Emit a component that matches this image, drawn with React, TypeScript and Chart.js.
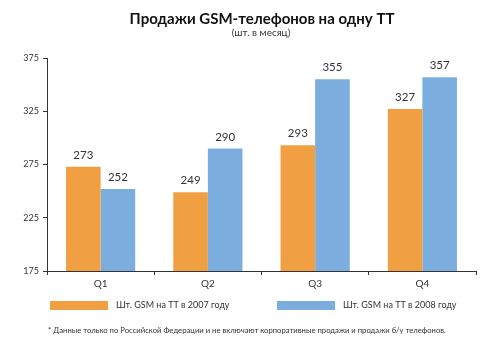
import React, { useEffect, useRef } from "react";
import { Chart, registerables } from "chart.js";

Chart.register(...registerables);

const categories = ["Q1", "Q2", "Q3", "Q4"];
const series2007 = [273, 249, 293, 327];
const series2008 = [252, 290, 355, 357];
const seriesNames = ["Шт. GSM на ТТ в 2007 году", "Шт. GSM на ТТ в 2008 году"];
const titleText = "Продажи GSM-телефонов на одну ТТ";
const subtitleText = "(шт. в месяц)";
const footnoteText =
  "* Данные только по Российской Федерации и не включают корпоративные продажи и продажи б/у телефонов.";
const yMin = 175;
const yMax = 375;
const yStep = 50;

const FONT = "Lato, 'Open Sans', sans-serif";
const TEXT = "#333333";
const ORANGE = "#F0A042";
const BLUE = "#7BAEDF";

const decorPlugin = {
  id: "decor",
  afterDraw(chart: any) {
    const ctx = chart.ctx;
    ctx.save();
    ctx.fillStyle = "#111";
    ctx.textAlign = "center";
    ctx.textBaseline = "middle";
    ctx.font = `bold 15px ${FONT}`;
    ctx.fillText(titleText, 262, 19);
    ctx.fillStyle = TEXT;
    ctx.font = `10px ${FONT}`;
    ctx.fillText(subtitleText, 261, 33);

    ctx.font = `11.5px ${FONT}`;
    ctx.textBaseline = "alphabetic";
    chart.data.datasets.forEach((ds: any, di: number) => {
      const meta = chart.getDatasetMeta(di);
      meta.data.forEach((bar: any, i: number) => {
        ctx.fillText(String(ds.data[i]), bar.x, bar.y - 8);
      });
    });

    const legendX = [50, 277];
    ctx.textAlign = "left";
    ctx.textBaseline = "middle";
    ctx.font = `9px ${FONT}`;
    chart.data.datasets.forEach((ds: any, di: number) => {
      ctx.fillStyle = ds.backgroundColor;
      ctx.fillRect(legendX[di], 301, 58, 9);
      ctx.fillStyle = TEXT;
      ctx.fillText(ds.label, legendX[di] + 66, 305.5);
    });

    ctx.font = `7.7px ${FONT}`;
    ctx.fillText(footnoteText, 48, 331);
    ctx.restore();
  },
};

export default function App() {
  const ref = useRef<HTMLCanvasElement>(null);
  useEffect(() => {
    document.body.style.margin = "0";
    const chart = new Chart(ref.current!, {
      type: "bar",
      data: {
        labels: categories,
        datasets: [
          { label: seriesNames[0], data: series2007, backgroundColor: ORANGE },
          { label: seriesNames[1], data: series2008, backgroundColor: BLUE },
        ],
      },
      options: {
        animation: false,
        responsive: false,
        layout: { padding: { top: 58, right: 24, bottom: 60, left: 0 } },
        datasets: { bar: { categoryPercentage: 0.645, barPercentage: 1 } },
        plugins: {
          legend: { display: false },
          tooltip: { enabled: false },
          title: { display: false },
        },
        scales: {
          x: {
            grid: { drawOnChartArea: false, drawTicks: true, tickLength: 4, color: TEXT },
            border: { color: TEXT },
            ticks: { color: TEXT, font: { family: FONT, size: 10 }, padding: 3 },
            afterFit(scale: any) {
              scale.height = 23;
            },
          },
          y: {
            min: yMin,
            max: yMax,
            grid: { drawOnChartArea: false, drawTicks: true, tickLength: 4, color: TEXT },
            border: { color: TEXT },
            ticks: { stepSize: yStep, color: TEXT, font: { family: FONT, size: 9 }, padding: 4 },
            afterFit(scale: any) {
              scale.width = 47;
            },
          },
        },
      },
      plugins: [decorPlugin],
    });
    return () => chart.destroy();
  }, []);
  return <canvas ref={ref} width={500} height={354} style={{ display: "block" }} />;
}
